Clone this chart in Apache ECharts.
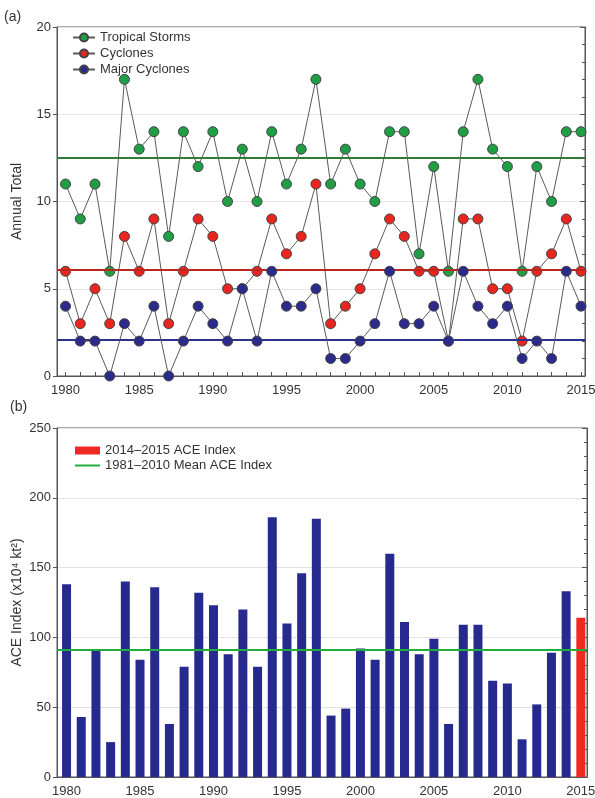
<!DOCTYPE html>
<html>
<head>
<meta charset="utf-8">
<script src="https://cdn.jsdelivr.net/npm/echarts@6/dist/echarts.min.js"></script>
<style>
html, body { margin: 0; padding: 0; background: #fff; }
#chart { width: 595px; height: 798px; }
</style>
</head>
<body>
<div id="chart"></div>
<script>
// data
var years = [];
for (var y = 1980; y <= 2015; y++) years.push(y);
var yearLabels = [1980, 1985, 1990, 1995, 2000, 2005, 2010, 2015];

var storms   = [11, 9, 11, 6, 17, 13, 14, 8, 14, 12, 14, 10, 13, 10, 14, 11, 13, 17, 11, 13, 11, 10, 14, 14, 7, 12, 6, 14, 17, 13, 12, 6, 12, 10, 14, 14];
var cyclones = [6, 3, 5, 3, 8, 6, 9, 3, 6, 9, 8, 5, 5, 6, 9, 7, 8, 11, 3, 4, 5, 7, 9, 8, 6, 6, 2, 9, 9, 5, 5, 2, 6, 7, 9, 6];
var majors   = [4, 2, 2, 0, 3, 2, 4, 0, 2, 4, 3, 2, 5, 2, 6, 4, 4, 5, 1, 1, 2, 3, 6, 3, 3, 4, 2, 6, 4, 3, 4, 1, 2, 1, 6, 4];
var stormMean = 12.5;
var cycloneMean = 6.1;
var majorMean = 2.1;

var ace = [138, 43, 91, 25, 140, 84, 136, 38, 79, 132, 123, 88, 120, 79, 186, 110, 146, 185, 44, 49, 92, 84, 160, 111, 88, 99, 38, 109, 109, 69, 67, 27, 52, 89, 133, 114];
var aceMean = 91;
var highlightYears = [2015];

function pairs(vals) {
  return years.map(function (yr, i) { return [yr, vals[i]]; });
}
var aceBlue = [], aceRed = [];
years.forEach(function (yr, i) {
  if (highlightYears.indexOf(yr) >= 0) aceRed.push([yr, ace[i]]);
  else aceBlue.push([yr, ace[i]]);
});

var chart = echarts.init(document.getElementById('chart'));
var font = 'Liberation Sans, Arial, sans-serif';
var axisCol = '#555';
var txt = { color: '#333', fontSize: 13, fontFamily: font };

function xAxisFor(idx, min, max) {
  return {
    type: 'value', gridIndex: idx, min: min, max: max,
    axisLine: { show: true, onZero: false, lineStyle: { color: axisCol } },
    axisTick: { show: true, inside: true, length: 4, customValues: years, lineStyle: { color: axisCol } },
    axisLabel: Object.assign({
      customValues: yearLabels, margin: 8,
      formatter: function (v) { return String(v); }
    }, txt),
    splitLine: { show: false }
  };
}

function markMean(val, col) {
  return {
    silent: true, symbol: 'none', label: { show: false },
    lineStyle: { color: col, width: 2, type: 'solid' },
    data: [{ yAxis: val }]
  };
}

function pointSeries(name, vals, col, mean, meanCol, z) {
  return {
    name: name, type: 'line', xAxisIndex: 0, yAxisIndex: 0,
    data: pairs(vals), symbol: 'circle', symbolSize: 10, z: z,
    lineStyle: { color: '#5a5a5a', width: 1 },
    itemStyle: { color: col, borderColor: '#444', borderWidth: 1 },
    markLine: markMean(mean, meanCol)
  };
}

var option = {
  backgroundColor: '#fff',
  animation: false,
  textStyle: { fontFamily: font },
  graphic: [
    { type: 'text', left: 4, top: 10, style: { text: '(a)', fontSize: 14, fill: '#333', fontFamily: font } },
    { type: 'text', left: 10, top: 400, style: { text: '(b)', fontSize: 14, fill: '#333', fontFamily: font } }
  ],
  grid: [
    { left: 57, top: 27, width: 528, height: 349, show: true, borderColor: axisCol, borderWidth: 1, outerBoundsMode: 'none' },
    { left: 57, top: 428, width: 530, height: 349, show: true, borderColor: axisCol, borderWidth: 1, outerBoundsMode: 'none' }
  ],
  legend: [
    {
      data: ['Tropical Storms', 'Cyclones', 'Major Cyclones'],
      orient: 'vertical', left: 72, top: 31, itemGap: 3,
      itemWidth: 22, itemHeight: 10, padding: 0,
      textStyle: txt
    },
    {
      data: [{ name: '2014–2015 ACE Index', icon: 'rect' }],
      left: 75, top: 444, itemWidth: 25, itemHeight: 8, padding: 0,
      textStyle: txt
    },
    {
      data: [{ name: '1981–2010 Mean ACE Index', icon: 'rect' }],
      left: 75, top: 459, itemWidth: 25, itemHeight: 2, padding: 0,
      textStyle: txt
    }
  ],
  xAxis: [
    xAxisFor(0, 1979.42, 2015.27),
    xAxisFor(1, 1979.35, 2015.42)
  ],
  yAxis: [
    {
      type: 'value', gridIndex: 0, min: 0, max: 20, interval: 5,
      name: 'Annual Total', nameLocation: 'middle', nameGap: 33, nameMoveOverlap: false,
      nameTextStyle: { fontSize: 14, color: '#333', fontFamily: font },
      axisLine: { show: true, lineStyle: { color: axisCol } },
      axisTick: { show: true, length: 4, lineStyle: { color: axisCol } },
      axisLabel: Object.assign({ margin: 6 }, txt),
      splitLine: { show: true, lineStyle: { color: '#e6e6e6' } }
    },
    {
      type: 'value', gridIndex: 0, min: 0, max: 20, interval: 5, position: 'right',
      axisLine: { show: true, lineStyle: { color: axisCol } },
      axisTick: { show: true, inside: true, length: 5, lineStyle: { color: axisCol } },
      minorTick: { show: true, splitNumber: 5, length: 3, lineStyle: { color: axisCol } },
      axisLabel: { show: false },
      splitLine: { show: false }
    },
    {
      type: 'value', gridIndex: 1, min: 0, max: 250, interval: 50,
      name: 'ACE Index (x10⁴ kt²)', nameLocation: 'middle', nameGap: 33, nameMoveOverlap: false,
      nameTextStyle: { fontSize: 14, color: '#333', fontFamily: font },
      axisLine: { show: true, lineStyle: { color: axisCol } },
      axisTick: { show: true, length: 4, lineStyle: { color: axisCol } },
      axisLabel: Object.assign({ margin: 6 }, txt),
      splitLine: { show: true, lineStyle: { color: '#e2e2e2' } }
    },
    {
      type: 'value', gridIndex: 1, min: 0, max: 250, interval: 50, position: 'right',
      axisLine: { show: true, lineStyle: { color: axisCol } },
      axisTick: { show: true, inside: true, length: 5, lineStyle: { color: axisCol } },
      minorTick: { show: true, splitNumber: 5, length: 3, lineStyle: { color: axisCol } },
      axisLabel: { show: false },
      splitLine: { show: false }
    }
  ],
  series: [
    pointSeries('Tropical Storms', storms, '#1f9e45', stormMean, '#2f7d32', 3),
    pointSeries('Cyclones', cyclones, '#e8251f', cycloneMean, '#b8281e', 4),
    pointSeries('Major Cyclones', majors, '#2b2b8c', majorMean, '#2e3090', 5),
    {
      name: 'ACE', type: 'bar', xAxisIndex: 1, yAxisIndex: 2,
      data: aceBlue, barWidth: 9, barGap: '-100%',
      itemStyle: { color: '#262a8e' }
    },
    {
      name: '2014–2015 ACE Index', type: 'bar', xAxisIndex: 1, yAxisIndex: 2,
      data: aceRed, barWidth: 9, barGap: '-100%',
      itemStyle: { color: '#ee2a22' }
    },
    {
      name: '1981–2010 Mean ACE Index', type: 'line', xAxisIndex: 1, yAxisIndex: 2,
      data: [], symbol: 'none', z: 5,
      lineStyle: { color: '#1fae3a', width: 2 },
      itemStyle: { color: '#1fae3a' },
      markLine: markMean(aceMean, '#1fae3a')
    }
  ]
};

chart.setOption(option);
</script>
</body>
</html>
